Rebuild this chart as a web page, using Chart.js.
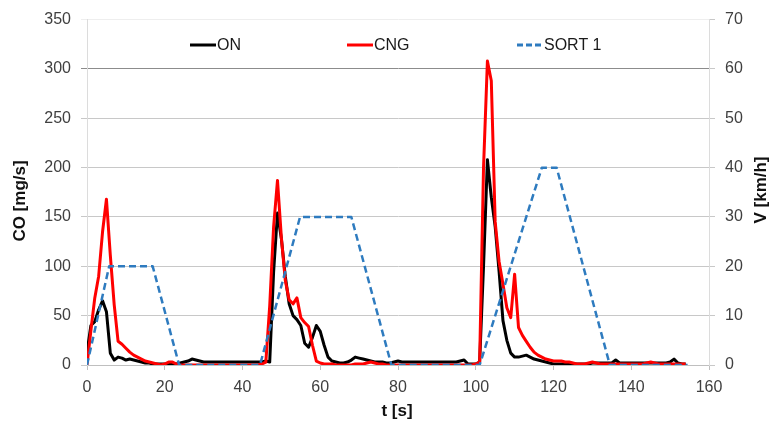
<!DOCTYPE html>
<html>
<head>
<meta charset="utf-8">
<script src="https://cdn.jsdelivr.net/npm/chart.js@4"></script>
<style>
  html, body { margin: 0; padding: 0; background: #fff; }
  #wrap { width: 773px; height: 426px; position: relative; }
</style>
</head>
<body>
<div id="wrap"><canvas id="chart"></canvas></div>
<script>
// CO emission [mg/s], one value per second (t = 0..154 s)
var onCO = [
  13, 40, 44, 56, 65, 54, 12, 5, 8, 7,
  5, 6, 5, 4, 3, 2, 2, 1, 1, 1,
  1, 1, 1, 1, 2, 3, 4, 6, 5, 4,
  3, 3, 3, 3, 3, 3, 3, 3, 3, 3,
  3, 3, 3, 3, 3, 3, 4, 3, 94, 154,
  128, 90, 62, 50, 46, 40, 22, 18, 28, 40,
  34, 20, 8, 4, 3, 2, 2, 3, 5, 8,
  7, 6, 5, 4, 3, 3, 3, 2, 2, 3,
  4, 3, 3, 3, 3, 3, 3, 3, 3, 3,
  3, 3, 3, 3, 3, 3, 4, 5, 1, 1,
  1, 3, 100, 208, 170, 140, 95, 45, 25, 12,
  8, 8, 9, 10, 8, 6, 5, 4, 3, 2,
  1, 1, 1, 1, 1, 1, 1, 1, 1, 1,
  2, 2, 2, 2, 2, 2, 5, 2, 2, 2,
  2, 2, 2, 2, 2, 2, 2, 2, 2, 2,
  3, 6, 2, 1, 1
];
var cngCO = [
  0, 35, 68, 90, 135, 168, 111, 61, 24, 21,
  17, 13, 10, 8, 6, 4, 3, 2, 1, 0,
  1, 3, 3, 1, 0, 0, 0, 0, 0, 0,
  0, 0, 0, 0, 0, 0, 0, 0, 0, 0,
  0, 0, 0, 0, 0, 1, 3, 60, 140, 187,
  129, 86, 66, 62, 68, 48, 43, 39, 20, 4,
  2, 1, 1, 1, 0, 0, 0, 0, 0, 1,
  1, 1, 2, 3, 2, 1, 1, 0, 0, 0,
  0, 0, 0, 0, 0, 0, 0, 0, 0, 0,
  0, 0, 0, 0, 0, 0, 0, 0, 0, 0,
  1, 3, 200, 308, 288, 145, 105, 82, 58, 48,
  92, 38, 30, 24, 18, 13, 10, 8, 6, 5,
  4, 4, 4, 3, 3, 2, 1, 1, 1, 2,
  3, 2, 1, 1, 1, 1, 1, 1, 1, 1,
  1, 1, 1, 1, 2, 3, 2, 1, 1, 1,
  1, 1, 1, 1, 1
];
var timeS = onCO.map(function (_, i) { return i; });

// SORT 1 driving cycle, speed [km/h]
var sortT = [0, 5.7, 16.9, 23.7, 44.5, 54.8, 68, 78.3, 101, 117, 120.8, 134.5, 154.5];
var sortV = [0, 20, 20, 0, 0, 30, 30, 0, 0, 40, 40, 0, 0];

var xTicks = [0, 20, 40, 60, 80, 100, 120, 140, 160];

var FONT = '"Liberation Sans", Arial, sans-serif';
var TXT = '#404040';

function pts(xs, ys) {
  return xs.map(function (x, i) { return { x: x, y: ys[i] }; });
}

// legend + axis titles drawn inside the canvas like the original
var extras = {
  id: 'extras',
  afterDraw: function (chart) {
    var c = chart.ctx;
    c.save();
    var items = [
      { x: 190, label: 'ON', color: '#000000', dash: [] },
      { x: 347, label: 'CNG', color: '#ff0000', dash: [] },
      { x: 517, label: 'SORT 1', color: '#2e7bbf', dash: [6, 3] }
    ];
    items.forEach(function (it) {
      c.beginPath();
      c.setLineDash(it.dash);
      c.lineWidth = 3;
      c.strokeStyle = it.color;
      c.moveTo(it.x, 45);
      c.lineTo(it.x + 26, 45);
      c.stroke();
      c.setLineDash([]);
      c.fillStyle = '#1a1a1a';
      c.font = '16px ' + FONT;
      c.textAlign = 'left';
      c.textBaseline = 'middle';
      c.fillText(it.label, it.x + 27, 46);
    });

    c.font = 'bold 17px ' + FONT;
    c.fillStyle = '#111';
    c.textAlign = 'center';
    c.textBaseline = 'middle';
    c.fillText('t [s]', 397, 411);

    c.save();
    c.translate(20, 201);
    c.rotate(-Math.PI / 2);
    c.fillText('CO [mg/s]', 0, 0);
    c.restore();

    c.save();
    c.translate(761, 190);
    c.rotate(-Math.PI / 2);
    c.fillText('V [km/h]', 0, 0);
    c.restore();
    c.restore();
  }
};

new Chart(document.getElementById('chart'), {
  type: 'line',
  data: {
    datasets: [
      {
        label: 'ON',
        data: pts(timeS, onCO),
        borderColor: '#000000',
        borderWidth: 3,
        yAxisID: 'y',
        order: 3
      },
      {
        label: 'CNG',
        data: pts(timeS, cngCO),
        borderColor: '#ff0000',
        borderWidth: 3,
        yAxisID: 'y',
        order: 2
      },
      {
        label: 'SORT 1',
        data: pts(sortT, sortV),
        borderColor: '#2e7bbf',
        borderWidth: 2.5,
        borderDash: [7, 4],
        yAxisID: 'y1',
        order: 1
      }
    ]
  },
  options: {
    responsive: true,
    maintainAspectRatio: false,
    animation: false,
    parsing: true,
    elements: {
      point: { radius: 0 },
      line: { tension: 0, borderJoinStyle: 'round', borderCapStyle: 'butt' }
    },
    layout: { padding: { top: 18, left: 0, right: 0, bottom: 0 } },
    plugins: {
      legend: { display: false },
      tooltip: { enabled: false }
    },
    scales: {
      x: {
        type: 'linear',
        min: 0,
        max: 160,
        afterFit: function (s) { s.height = 61; },
        afterBuildTicks: function (s) {
          s.ticks = xTicks.map(function (v) { return { value: v }; });
        },
        grid: {
          display: true,
          drawOnChartArea: false,
          drawTicks: true,
          tickLength: 5,
          color: '#bfbfbf'
        },
        border: { display: true, color: '#bfbfbf', width: 1 },
        ticks: {
          padding: 8,
          maxRotation: 0,
          color: TXT,
          font: { family: FONT, size: 16 }
        }
      },
      y: {
        position: 'left',
        min: 0,
        max: 350,
        afterFit: function (s) { s.width = 87; },
        grid: {
          tickLength: 6,
          color: function (ctx) {
            if (ctx.tick && ctx.tick.value === 350) return '#eeeeee';
            if (ctx.tick && ctx.tick.value === 300) return '#8c8c8c';
            return '#c8c8c8';
          }
        },
        border: { display: true, color: '#dcdcdc' },
        ticks: {
          stepSize: 50,
          padding: 10,
          color: TXT,
          font: { family: FONT, size: 16 }
        }
      },
      y1: {
        position: 'right',
        min: 0,
        max: 70,
        afterFit: function (s) { s.width = 64; },
        grid: {
          drawOnChartArea: false,
          tickLength: 6,
          color: '#c8c8c8'
        },
        border: { display: true, color: '#dcdcdc' },
        ticks: {
          stepSize: 10,
          padding: 10,
          color: TXT,
          font: { family: FONT, size: 16 }
        }
      }
    }
  },
  plugins: [extras]
});
</script>
</body>
</html>
